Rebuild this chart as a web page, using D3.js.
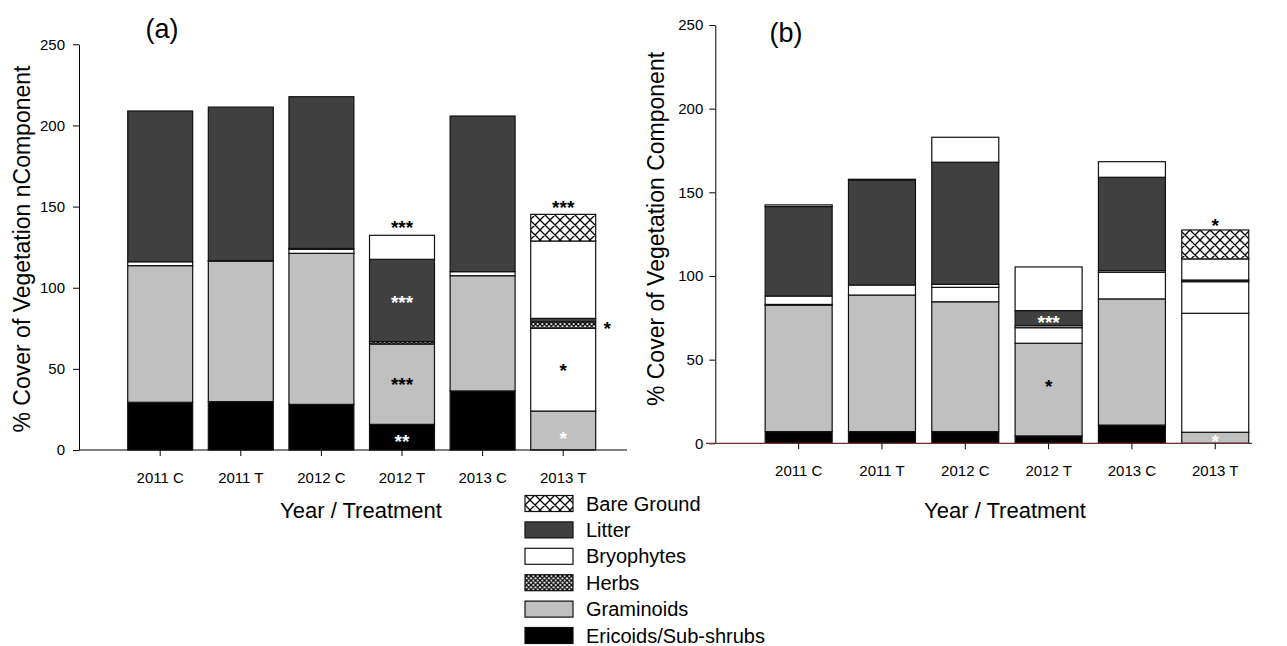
<!DOCTYPE html>
<html><head><meta charset="utf-8">
<script src="https://cdn.jsdelivr.net/npm/d3@7"></script>
<style>body{margin:0;background:#fff}svg{display:block}text{font-family:Arial,"Liberation Sans",sans-serif}</style>
</head><body>
<svg id="c" width="1287" height="646"></svg>
<script>
const categories = ["2011 C","2011 T","2012 C","2012 T","2013 C","2013 T"];
const seriesKeys = ["ericoids","graminoids","other","herbs","litter","bryophytes","bare"];
const yTicks = [0,50,100,150,200,250];

// Panel (a)
const ericoidsA   = [29.4, 29.8, 28.1, 15.8, 36.4, 0];
const graminoidsA = [84.2, 86.6, 93.1, 49.5, 71.0, 24.0];
const otherA      = [2.4, 0.3, 2.5, 0, 2.5, 51.0];
const herbsA      = [0, 0, 0.5, 1.5, 0, 4.0];
const litterA     = [92.9, 94.6, 93.5, 50.7, 95.9, 2.1];
const bryophytesA = [0, 0, 0, 14.8, 0, 47.7];
const bareA       = [0, 0, 0, 0, 0, 16.4];

// Panel (b)
const ericoidsB   = [7.0, 7.0, 7.0, 4.4, 10.9, 0];
const graminoidsB = [75.5, 81.6, 77.6, 55.4, 75.4, 6.6];
const otherB      = [0.5, 0, 8.6, 9.3, 15.9, 71.1];
const herbsB      = [5.0, 6.0, 1.8, 1.2, 1.0, 18.9];
const litterB     = [53.5, 62.6, 73.0, 9.0, 55.8, 1.0];
const bryophytesB = [1.0, 0.6, 14.9, 26.1, 9.3, 12.6];
const bareB       = [0, 0, 0, 0, 0, 17.3];

// significance marks: category, value position, text, colour, horizontal shift
const marksA = [
  ["2012 T", 140, "***", "#000", 0],
  ["2012 T", 93.7, "***", "#fff", 0],
  ["2012 T", 43.1, "***", "#000", 0],
  ["2012 T", 8, "**", "#fff", 0],
  ["2013 T", 152.5, "***", "#000", 0],
  ["2013 T", 77.6, "*", "#000", 44],
  ["2013 T", 51.8, "*", "#000", 0],
  ["2013 T", 9.9, "*", "#fff", 0]
];
const marksB = [
  ["2012 T", 74.7, "***", "#fff", 0],
  ["2012 T", 36.8, "*", "#000", 0],
  ["2013 T", 132.9, "*", "#000", 0],
  ["2013 T", 3.8, "*", "#fff", 0]
];

const legendLabels = ["Bare Ground","Litter","Bryophytes","Herbs","Graminoids","Ericoids/Sub-shrubs"];
const legendKeys   = ["bare","litter","bryophytes","herbs","graminoids","ericoids"];

const svg = d3.select("#c");
const defs = svg.append("defs");
function hatch(id, size, sw){
  const p = defs.append("pattern").attr("id", id).attr("patternUnits","userSpaceOnUse")
    .attr("width", size).attr("height", size);
  p.append("rect").attr("width", size).attr("height", size).attr("fill","#fff");
  p.append("path").attr("d", `M0,0L${size},${size}M${size},0L0,${size}M-1,${size-1}L1,${size+1}M${size-1},-1L${size+1},1M-1,1L1,-1M${size-1},${size+1}L${size+1},${size-1}`)
    .attr("stroke","#000").attr("stroke-width", sw);
}
hatch("pBare", 10, 1.3);
hatch("pHerbs", 4.5, 1.3);

const fillA = {ericoids:"#000", graminoids:"#c0c0c0", other:"#fff", herbs:"url(#pHerbs)", litter:"#404040", bryophytes:"#fff", bare:"url(#pBare)"};
const fillB = {ericoids:"#000", graminoids:"#c0c0c0", other:"#fff", herbs:"#fff", litter:"#404040", bryophytes:"#fff", bare:"url(#pBare)"};

function rows(arrs){
  return categories.map((c,i)=>{ const o={cat:c}; seriesKeys.forEach((k,j)=>o[k]=arrs[j][i]); return o; });
}

function panel(cfg){
  const g = svg.append("g");
  const x = d3.scaleBand().domain(categories).range(cfg.xr).paddingInner(cfg.pad).paddingOuter(cfg.pad/2);
  const y = d3.scaleLinear().domain([0,250]).range(cfg.yr);
  const stacked = d3.stack().keys(seriesKeys)(rows(cfg.data));
  stacked.forEach(layer=>{
    g.append("g").selectAll("rect").data(layer.filter(d=>d[1]-d[0]>0)).join("rect")
      .attr("x", d=>x(d.data.cat)).attr("width", x.bandwidth())
      .attr("y", d=>y(d[1])).attr("height", d=>y(d[0])-y(d[1]))
      .attr("fill", cfg.fill[layer.key]).attr("stroke","#111").attr("stroke-width",1.2);
  });
  // y axis
  const ya = g.append("g").attr("transform",`translate(${cfg.ax},0)`)
    .call(d3.axisLeft(y).tickValues(yTicks).tickSize(6).tickSizeOuter(0).tickPadding(cfg.yp));
  ya.select(".domain").attr("stroke","#000");
  ya.selectAll("text").attr("font-size",15).attr("fill","#000").attr("font-family","Arial, 'Liberation Sans', sans-serif");
  // x axis
  g.append("line").attr("x1",cfg.xl[0]).attr("x2",cfg.xl[1]).attr("y1",y(0)).attr("y2",y(0))
    .attr("stroke",cfg.xcol).attr("stroke-width",1.2);
  const xa = g.append("g").attr("transform",`translate(0,${y(0)})`)
    .call(d3.axisBottom(x).tickSize(6).tickSizeOuter(0).tickPadding(cfg.tp));
  xa.select(".domain").remove();
  xa.selectAll("line").attr("stroke","#000");
  xa.selectAll("text").attr("font-size",15).attr("fill","#000").attr("font-family","Arial, 'Liberation Sans', sans-serif");
  // marks
  g.append("g").selectAll("text").data(cfg.marks).join("text")
    .attr("x", d=>x(d[0])+x.bandwidth()/2+d[4]).attr("y", d=>y(d[1])+11)
    .attr("text-anchor","middle").attr("font-size",19).attr("font-weight","bold").attr("fill", d=>d[3]).text(d=>d[2]);
  // titles
  g.append("text").attr("x",cfg.xt[0]).attr("y",cfg.xt[1]).attr("text-anchor","middle").attr("font-size",22).text("Year / Treatment");
  g.append("text").attr("transform",`translate(${cfg.yt[0]},${cfg.yt[1]}) rotate(-90)`).attr("text-anchor","middle")
    .attr("font-size",23).text(cfg.ytitle);
  g.append("text").attr("x",cfg.lab[0]).attr("y",cfg.lab[1]).attr("text-anchor","middle")
    .attr("font-family","'Liberation Serif','Times New Roman',serif").attr("font-size",27).text(cfg.label);
}

panel({
  data:[ericoidsA,graminoidsA,otherA,herbsA,litterA,bryophytesA,bareA],
  xr:[119.9,603.5], pad:0.194, yr:[450,44.3], ax:79, xl:[79,627], xcol:"#000", tp:16, yp:8,
  fill:fillA, marks:marksA, xt:[361,518], yt:[30,249], ytitle:"% Cover of Vegetation nComponent",
  lab:[162,38], label:"(a)"
});
panel({
  data:[ericoidsB,graminoidsB,otherB,herbsB,litterB,bryophytesB,bareB],
  xr:[757,1256.9], pad:0.196, yr:[443.3,25], ax:715.3, xl:[706,1252], xcol:"#6e3030", tp:16, yp:6,
  fill:fillB, marks:marksB, xt:[1005,518], yt:[664,229], ytitle:"% Cover of Vegetation Component",
  lab:[786,42], label:"(b)"
});

// legend
const lg = svg.append("g");
const fillLeg = {bare:"url(#pBare)", litter:"#404040", bryophytes:"#fff", herbs:"url(#pHerbs)", graminoids:"#c0c0c0", ericoids:"#000"};
const ly = d3.scalePoint().domain(legendLabels).range([503.5, 635.5]);
lg.selectAll("rect").data(legendLabels).join("rect")
  .attr("x",525).attr("width",48).attr("y",d=>ly(d)-8).attr("height",16)
  .attr("fill",(d,i)=>fillLeg[legendKeys[i]]).attr("stroke","#111").attr("stroke-width",1.2);
lg.selectAll("text").data(legendLabels).join("text")
  .attr("x",586).attr("y",d=>ly(d)+7).attr("font-size",20).text(d=>d);
</script>
</body></html>
